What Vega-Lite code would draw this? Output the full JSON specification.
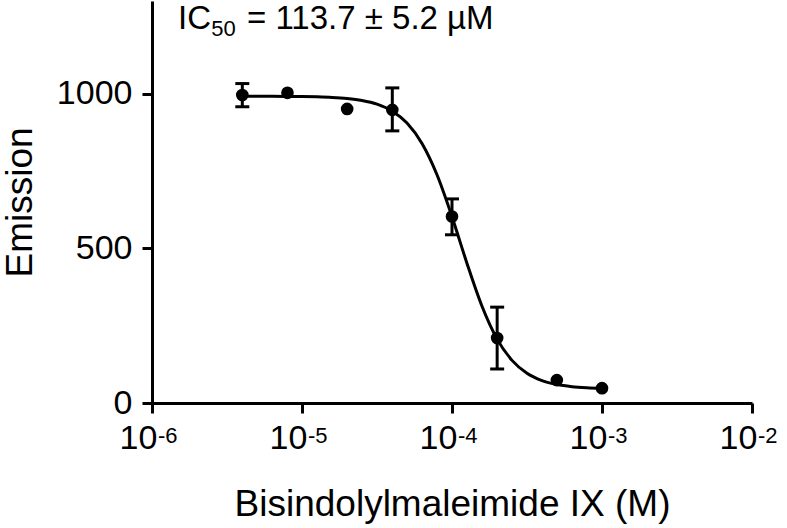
{
  "$schema": "https://vega.github.io/schema/vega-lite/v6.json",
  "width": 600,
  "height": 402,
  "autosize": "none",
  "padding": {"left": 152, "top": 1, "right": 35, "bottom": 125},
  "background": "white",
  "config": {
    "view": {"stroke": null},
    "font": "Liberation Sans",
    "axis": {
      "domainColor": "black", "domainWidth": 3, "tickColor": "black", "tickWidth": 3, "tickSize": 10,
      "labelColor": "black", "titleColor": "black", "labelFont": "Liberation Sans", "titleFont": "Liberation Sans",
      "labelFontSize": 34, "titleFontSize": 37, "titleFontWeight": "normal", "grid": false
    }
  },
  "datasets": {
    "points": [
      {"conc": 4e-6, "emission": 996, "lo": 958, "hi": 1033},
      {"conc": 8e-6, "emission": 1003},
      {"conc": 2e-5, "emission": 951},
      {"conc": 4e-5, "emission": 948, "lo": 880, "hi": 1019},
      {"conc": 1e-4, "emission": 603, "lo": 544, "hi": 660},
      {"conc": 2e-4, "emission": 210, "lo": 110, "hi": 310},
      {"conc": 5e-4, "emission": 74},
      {"conc": 1e-3, "emission": 48}
    ],
    "curve": [
      {"conc": 4e-6, "emission": 992},
      {"conc": 5.012e-6, "emission": 991.8},
      {"conc": 6.31e-6, "emission": 991.7},
      {"conc": 7.943e-6, "emission": 991.4},
      {"conc": 1e-5, "emission": 991},
      {"conc": 1.259e-5, "emission": 990},
      {"conc": 1.585e-5, "emission": 988.2},
      {"conc": 1.995e-5, "emission": 984.8},
      {"conc": 2.512e-5, "emission": 978.4},
      {"conc": 3.162e-5, "emission": 966.4},
      {"conc": 3.981e-5, "emission": 944.4},
      {"conc": 5.012e-5, "emission": 905.2},
      {"conc": 6.31e-5, "emission": 839.3},
      {"conc": 7.943e-5, "emission": 738.1},
      {"conc": 1e-4, "emission": 602.6},
      {"conc": 1.259e-4, "emission": 451.4},
      {"conc": 1.585e-4, "emission": 312.9},
      {"conc": 1.995e-4, "emission": 207.4},
      {"conc": 2.512e-4, "emission": 137.8},
      {"conc": 3.162e-4, "emission": 96.1},
      {"conc": 3.981e-4, "emission": 72.5},
      {"conc": 5.012e-4, "emission": 59.6},
      {"conc": 6.31e-4, "emission": 52.7},
      {"conc": 7.943e-4, "emission": 49.1},
      {"conc": 1e-3, "emission": 47.1}
    ],
    "exponents": [
      {"conc": 1e-6, "emission": 0, "exp": "-6"},
      {"conc": 1e-5, "emission": 0, "exp": "-5"},
      {"conc": 1e-4, "emission": 0, "exp": "-4"},
      {"conc": 1e-3, "emission": 0, "exp": "-3"},
      {"conc": 1e-2, "emission": 0, "exp": "-2"}
    ]
  },
  "layer": [
    {
      "data": {"name": "curve"},
      "mark": {"type": "line", "color": "black", "strokeWidth": 3, "interpolate": "monotone"},
      "encoding": {
        "x": {"field": "conc", "type": "quantitative",
          "scale": {"type": "log", "domain": [1e-6, 1e-2]},
          "axis": {"title": "Bisindolylmaleimide IX (M)", "values": [1e-6, 1e-5, 1e-4, 1e-3, 1e-2],
            "labelExpr": "'10'", "labelAlign": "center", "labelOffset": -14,
            "labelPadding": 8, "titlePadding": 31, "labelFlush": false, "labelOverlap": false}},
        "y": {"field": "emission", "type": "quantitative",
          "scale": {"domain": [0, 1300], "nice": false},
          "axis": {"title": "Emission", "values": [0, 500, 1000], "format": "d", "labelPadding": 10, "titlePadding": 17}}
      }
    },
    {
      "data": {"name": "exponents"},
      "mark": {"type": "text", "align": "left", "baseline": "top", "fontSize": 22, "color": "black", "dx": 6, "dy": 23},
      "encoding": {
        "x": {"field": "conc", "type": "quantitative", "title": "Bisindolylmaleimide IX (M)"},
        "y": {"field": "emission", "type": "quantitative", "title": "Emission"},
        "text": {"field": "exp"}
      }
    },
    {
      "data": {"name": "points"},
      "transform": [{"filter": "isValid(datum.lo)"}],
      "mark": {"type": "errorbar", "color": "black", "opacity": 1,
        "rule": {"strokeWidth": 3, "color": "black", "opacity": 1},
        "ticks": {"size": 14, "thickness": 3, "color": "black", "opacity": 1}},
      "encoding": {
        "x": {"field": "conc", "type": "quantitative", "title": "Bisindolylmaleimide IX (M)"},
        "y": {"field": "lo", "type": "quantitative", "title": "Emission"},
        "y2": {"field": "hi"}
      }
    },
    {
      "data": {"name": "points"},
      "mark": {"type": "point", "filled": true, "color": "black", "opacity": 1, "size": 160},
      "encoding": {
        "x": {"field": "conc", "type": "quantitative", "title": "Bisindolylmaleimide IX (M)"},
        "y": {"field": "emission", "type": "quantitative", "title": "Emission"}
      }
    },
    {
      "data": {"values": [{"conc": 1.49e-6, "emission": 1210, "label": "IC"}]},
      "mark": {"type": "text", "align": "left", "baseline": "alphabetic", "fontSize": 33, "color": "black"},
      "encoding": {
        "x": {"field": "conc", "type": "quantitative"},
        "y": {"field": "emission", "type": "quantitative"},
        "text": {"field": "label"}
      }
    },
    {
      "data": {"values": [{"conc": 2.48e-6, "emission": 1188, "label": "50"}]},
      "mark": {"type": "text", "align": "left", "baseline": "alphabetic", "fontSize": 22, "color": "black"},
      "encoding": {
        "x": {"field": "conc", "type": "quantitative"},
        "y": {"field": "emission", "type": "quantitative"},
        "text": {"field": "label"}
      }
    },
    {
      "data": {"values": [{"conc": 4.3e-6, "emission": 1210, "label": "= 113.7 ± 5.2 µM"}]},
      "mark": {"type": "text", "align": "left", "baseline": "alphabetic", "fontSize": 33, "color": "black"},
      "encoding": {
        "x": {"field": "conc", "type": "quantitative"},
        "y": {"field": "emission", "type": "quantitative"},
        "text": {"field": "label"}
      }
    }
  ]
}
